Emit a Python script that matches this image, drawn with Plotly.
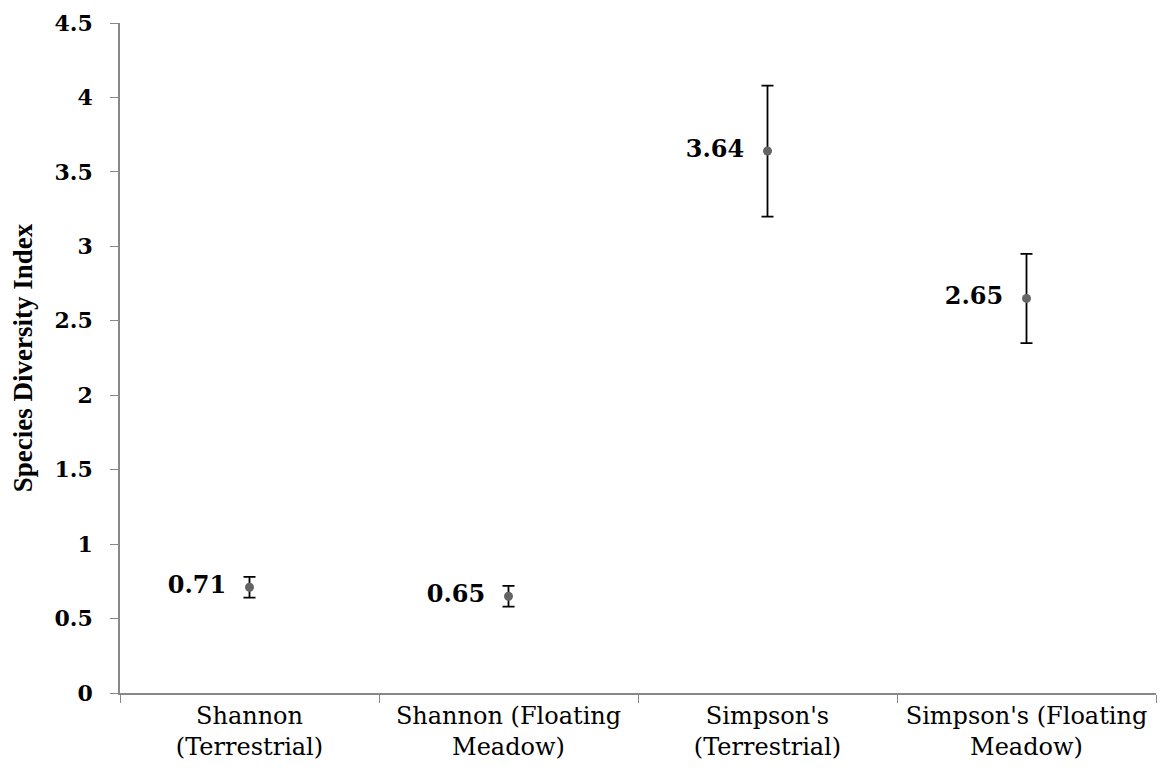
import plotly.graph_objects as go

categories = ["Shannon<br>(Terrestrial)", "Shannon (Floating<br>Meadow)",
              "Simpson's<br>(Terrestrial)", "Simpson's (Floating<br>Meadow)"]
values = [0.71, 0.65, 3.64, 2.65]
errors = [0.07, 0.07, 0.44, 0.30]
labels = ["0.71", "0.65", "3.64", "2.65"]
y_ticks = [0, 0.5, 1, 1.5, 2, 2.5, 3, 3.5, 4, 4.5]
y_ticklabels = ["0", "0.5", "1", "1.5", "2", "2.5", "3", "3.5", "4", "4.5"]

serif = "DejaVu Serif, serif"
cond = "Liberation Serif, serif"

fig = go.Figure()
fig.add_trace(go.Scatter(
    x=categories, y=values, mode="markers+text",
    marker=dict(color="#646464", size=9),
    error_y=dict(type="data", array=errors, visible=True, color="black", thickness=1.8, width=6),
    text=[t + "\u00a0\u00a0" for t in labels], textposition="middle left",
    textfont=dict(family=serif, size=24, color="black", weight="bold"),
    cliponaxis=False, showlegend=False,
))

fig.update_layout(
    width=1161, height=780,
    margin=dict(l=120, r=5, t=23, b=87, autoexpand=False),
    plot_bgcolor="white", paper_bgcolor="white",
    font=dict(family=serif, color="black"),
    xaxis=dict(
        range=[-0.5, 3.5], automargin=False,
        showline=True, linecolor="#888888", linewidth=1.5,
        ticks="outside", tickson="boundaries", ticklen=8, tickcolor="#888888",
        tickfont=dict(family=serif, size=24, color="black"),
        showgrid=False, zeroline=False,
    ),
    yaxis=dict(
        range=[0, 4.5], tickvals=y_ticks, ticktext=y_ticklabels, automargin=False,
        showline=True, linecolor="#888888", linewidth=1.5,
        ticks="outside", ticklen=8, tickcolor="#888888", ticklabelstandoff=13,
        tickfont=dict(family=serif, size=22, color="black", weight="bold"),
        showgrid=False, zeroline=False,
        title=dict(text="Species Diversity Index",
                   font=dict(family=cond, size=27, color="black", weight="bold"),
                   standoff=14),
    ),
)

fig.write_html("out.html")
